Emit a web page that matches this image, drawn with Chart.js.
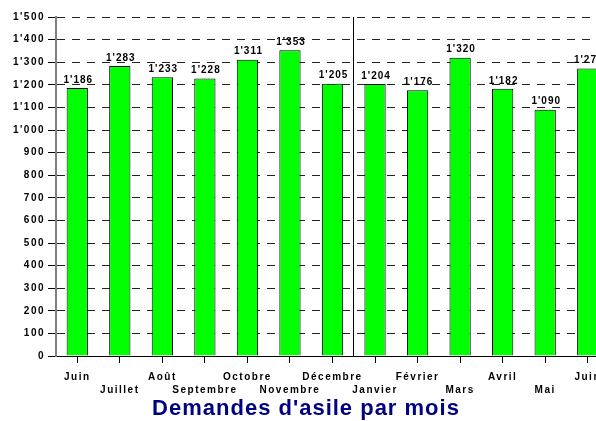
<!DOCTYPE html>
<html>
<head>
<meta charset="utf-8">
<script src="https://cdn.jsdelivr.net/npm/chart.js@4/dist/chart.umd.min.js"></script>
<style>
  html, body { margin: 0; padding: 0; background: #fff; overflow: hidden; }
  #wrap { width: 596px; height: 421px; overflow: hidden; }
</style>
</head>
<body>
<div id="wrap"><canvas id="asylumChart" width="612" height="421"></canvas></div>
<script>
// Demandes d'asile par mois - bar chart

const months = ['Juin', 'Juillet', 'Août', 'Septembre', 'Octobre', 'Novembre', 'Décembre',
  'Janvier', 'Février', 'Mars', 'Avril', 'Mai', 'Juin'];
const requests = [1186, 1283, 1233, 1228, 1311, 1353, 1205, 1204, 1176, 1320, 1182, 1090, 1272];
const yTicks = [0, 100, 200, 300, 400, 500, 600, 700, 800, 900, 1000, 1100, 1200, 1300, 1400, 1500];
const chartTitle = "Demandes d'asile par mois";
// year change falls between these two categories
const separatorAfter = 6;

/**
 * Format a number with an apostrophe as thousands separator (1'186).
 */
function formatCH(v) {
  return String(v).replace(/\B(?=(\d{3})+(?!\d))/g, "'");
}

// Letter spacing for the axis text
const spacingPlugin = {
  id: 'spacing',
  beforeDraw(chart) {
    chart.ctx.letterSpacing = '1.5px';
  },
  afterDraw(chart) {
    chart.ctx.letterSpacing = '0px';
  },
};

// Value labels above the bars
const valueLabels = {
  id: 'valueLabels',
  afterDatasetsDraw(chart) {
    const ctx = chart.ctx;
    const meta = chart.getDatasetMeta(0);
    ctx.save();
    ctx.letterSpacing = '1px';
    ctx.font = 'bold 10px Arial, "Liberation Sans", sans-serif';
    ctx.fillStyle = '#000';
    ctx.textAlign = 'center';
    ctx.textBaseline = 'bottom';
    meta.data.forEach((bar, i) => {
      ctx.fillText(formatCH(requests[i]), bar.x + 1, bar.y - 3);
    });
    ctx.restore();
  },
};

// Vertical line between Décembre and Janvier
const separatorLine = {
  id: 'separatorLine',
  afterDatasetsDraw(chart) {
    const x = chart.scales.x;
    const area = chart.chartArea;
    const px = Math.round((x.getPixelForTick(separatorAfter) + x.getPixelForTick(separatorAfter + 1)) / 2) - 0.5;
    const ctx = chart.ctx;
    ctx.save();
    ctx.strokeStyle = '#000';
    ctx.lineWidth = 1;
    ctx.beginPath();
    ctx.moveTo(px, area.top);
    ctx.lineTo(px, area.bottom);
    ctx.stroke();
    ctx.restore();
  },
};

// Title under the chart
const bottomTitle = {
  id: 'bottomTitle',
  afterDraw(chart) {
    const ctx = chart.ctx;
    ctx.save();
    ctx.letterSpacing = '1px';
    ctx.font = 'bold 22px Arial, "Liberation Sans", sans-serif';
    ctx.fillStyle = '#000080';
    ctx.textAlign = 'center';
    ctx.textBaseline = 'middle';
    ctx.fillText(chartTitle, 306, 409);
    ctx.restore();
  },
};

const ctx = document.getElementById('asylumChart').getContext('2d');

new Chart(ctx, {
  type: 'bar',
  data: {
    labels: months,
    datasets: [
      {
        data: requests,
        backgroundColor: '#00ff00',
        borderColor: '#000',
        borderWidth: 1,
        borderSkipped: 'bottom',
        categoryPercentage: 1,
        barPercentage: 0.5,
      },
    ],
  },
  options: {
    responsive: false,
    animation: false,
    devicePixelRatio: 1,
    layout: {
      padding: { top: 17, right: 3, bottom: 20, left: 0 },
    },
    plugins: {
      legend: { display: false },
      tooltip: { enabled: false },
    },
    scales: {
      x: {
        offset: true,
        grid: {
          offset: false,
          drawOnChartArea: false,
          drawTicks: true,
          tickLength: 7,
          tickColor: '#000',
        },
        border: { color: '#000', width: 1 },
        ticks: {
          autoSkip: false,
          maxRotation: 0,
          minRotation: 0,
          padding: 8,
          color: '#000',
          font: { family: 'Arial, "Liberation Sans", sans-serif', size: 10, weight: 'bold', lineHeight: 1.3 },
          callback: (value, index) => (index % 2 === 0 ? [months[index]] : ['', months[index]]),
        },
        afterFit(scale) {
          scale.height = 45;
        },
      },
      y: {
        min: 0,
        max: 1500,
        afterBuildTicks(scale) {
          scale.ticks = yTicks.map((v) => ({ value: v }));
        },
        grid: {
          color: '#222',
          lineWidth: 1,
          drawTicks: true,
          tickLength: 8,
          tickColor: '#000',
          tickBorderDash: [],
        },
        border: { color: '#808080', width: 2, dash: [8, 7] },
        ticks: {
          padding: 3,
          color: '#000',
          font: { family: 'Arial, "Liberation Sans", sans-serif', size: 10, weight: 'bold' },
          callback: (value) => formatCH(value),
        },
        afterFit(scale) {
          scale.width = 56;
        },
      },
    },
  },
  plugins: [spacingPlugin, valueLabels, separatorLine, bottomTitle],
});
</script>
</body>
</html>
